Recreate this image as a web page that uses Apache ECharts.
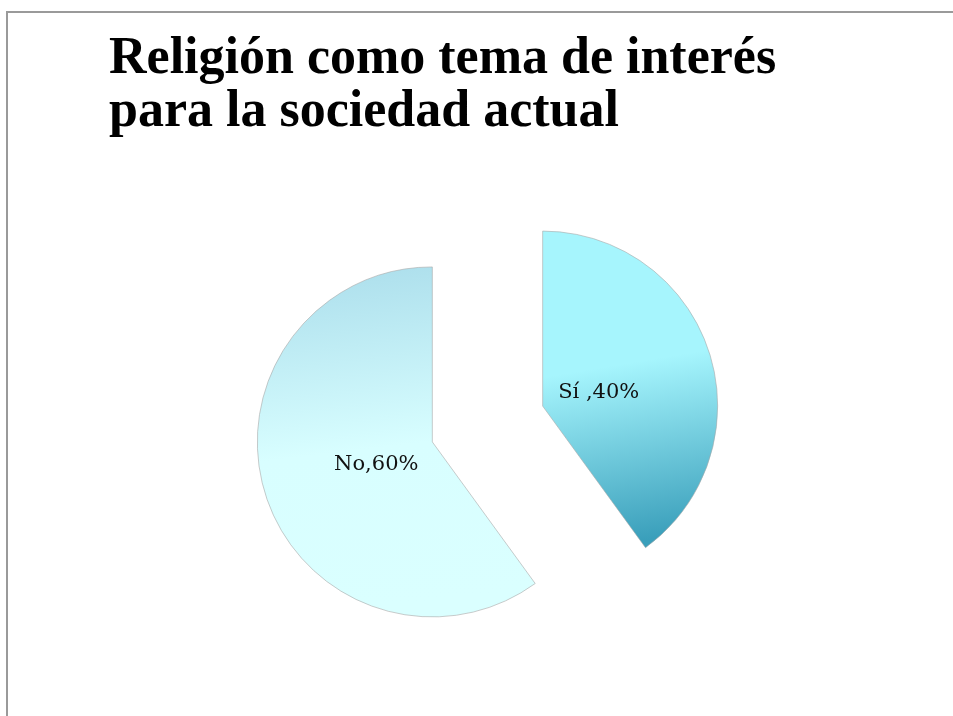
<!DOCTYPE html>
<html>
<head>
<meta charset="utf-8">
<script src="https://cdn.jsdelivr.net/npm/echarts@6/dist/echarts.min.js"></script>
<style>
  html, body { margin: 0; padding: 0; background: #fff; }
  #chart { width: 953px; height: 716px; }
  #frame {
    position: absolute; left: 6px; top: 11px; right: 0; bottom: 0;
    border-left: 2px solid #9a9a9a; border-top: 2px solid #9a9a9a;
    pointer-events: none;
  }
</style>
</head>
<body>
<div id="chart"></div>
<div id="frame"></div>
<script>
// datos del gráfico
var titulo = 'Religión como tema de interés\npara la sociedad actual';
var categorias = ['Sí ', 'No'];
var valores = [40, 60];
var desplazamientos = [[-30, 14], [30, -5]];

var gradientes = [
    new echarts.graphic.LinearGradient(0, 0, 0.3, 1, [
        {offset: 0, color: '#A6F5FD'},
        {offset: 0.45, color: '#A6F5FD'},
        {offset: 1, color: '#3A9FBB'}
    ]),
    new echarts.graphic.LinearGradient(0, 0, 0.15, 1, [
        {offset: 0, color: '#AADDEB'},
        {offset: 0.55, color: '#D8FEFF'},
        {offset: 1, color: '#DAFFFF'}
    ])
];

var myChart = echarts.init(document.getElementById('chart'));

var datos = categorias.map(function (nombre, i) {
    return {
        name: nombre,
        value: valores[i],
        selected: true,
        itemStyle: { color: gradientes[i] }
    };
});

var option = {
    animation: false,
    title: {
        text: titulo,
        left: 104,
        top: 28,
        textStyle: {
            fontFamily: 'Liberation Serif',
            fontWeight: 'bold',
            fontSize: 52,
            lineHeight: 53,
            color: '#000'
        }
    },
    series: [
        {
            type: 'pie',
            center: [487.5, 424],
            radius: 175,
            startAngle: 90,
            clockwise: true,
            selectedMode: 'multiple',
            selectedOffset: 58,
            data: datos,
            itemStyle: {
                borderColor: '#a8a8a8',
                borderWidth: 0.6
            },
            label: {
                position: 'inside',
                formatter: function (p) { return p.name + ',' + p.value + '%'; },
                fontFamily: 'DejaVu Serif',
                fontSize: 21,
                color: '#111'
            },
            labelLayout: function (p) {
                var d = desplazamientos[p.dataIndex];
                return { dx: d[0], dy: d[1] };
            },
            labelLine: { show: false },
            emphasis: { disabled: true },
            select: { itemStyle: { borderColor: '#a8a8a8', borderWidth: 0.6 } }
        }
    ]
};

myChart.setOption(option);
</script>
</body>
</html>
